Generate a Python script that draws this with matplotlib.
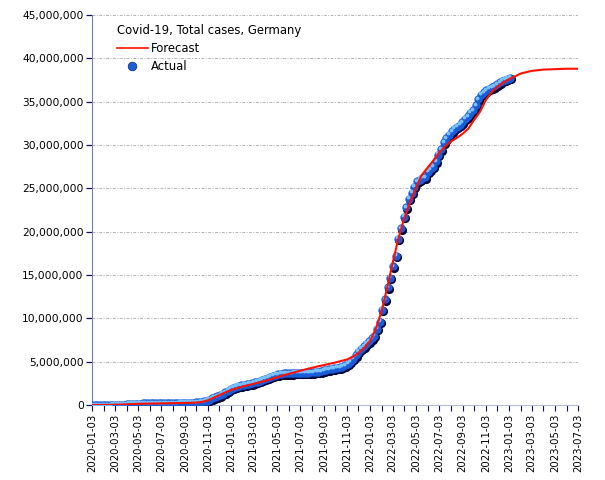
import matplotlib
matplotlib.use("Agg")
import matplotlib.pyplot as plt
import matplotlib.ticker as mticker
from matplotlib.transforms import offset_copy
from matplotlib.lines import Line2D
import pandas as pd
import numpy as np

plt.rcParams['font.family'] = ['DejaVu Sans']

legend_title = "Covid-19, Total cases, Germany"
series_names = ["Forecast", "Actual"]

# Actual total cases (millions), weekly from 2020-01-03
actual_start = "2020-01-03"
actual_2020 = [0, 0, 0, 0, 0, 0, 0, 0, 0.0001, 0.0007, 0.004, 0.02, 0.05,
               0.09, 0.12, 0.14, 0.155, 0.164, 0.171, 0.176, 0.18, 0.183,
               0.185, 0.188, 0.191, 0.194, 0.197, 0.2, 0.203, 0.207, 0.212,
               0.218, 0.226, 0.235, 0.244, 0.252, 0.261, 0.272, 0.286, 0.3,
               0.32, 0.355, 0.41, 0.51, 0.63, 0.76, 0.89, 1.02, 1.15, 1.3,
               1.47, 1.63]
actual_2021 = [1.85, 2.0, 2.1, 2.2, 2.28, 2.36, 2.42, 2.47, 2.53, 2.6, 2.68,
               2.78, 2.9, 3.02, 3.15, 3.28, 3.4, 3.5, 3.57, 3.62, 3.65, 3.67,
               3.68, 3.69, 3.7, 3.7, 3.71, 3.72, 3.73, 3.74, 3.76, 3.78,
               3.81, 3.86, 3.92, 3.99, 4.06, 4.12, 4.18, 4.23, 4.28, 4.35,
               4.44, 4.56, 4.75, 5.0, 5.35, 5.75, 6.15, 6.5, 6.8, 7.05, 7.35]
actual_2022 = [7.7, 8.0, 8.8, 9.6, 11.0, 12.2, 13.6, 14.7, 16.0, 17.2, 19.2,
               20.4, 21.7, 22.8, 23.8, 24.5, 25.2, 25.8, 26.0, 26.2, 26.3,
               26.9, 27.2, 27.5, 28.1, 28.9, 29.5, 30.3, 30.8, 31.2, 31.6,
               31.85, 32.1, 32.35, 32.6, 33.0, 33.3, 33.7, 34.0, 34.6, 35.3,
               35.8, 36.1, 36.3, 36.5, 36.65, 36.8, 37.0, 37.25, 37.4, 37.5,
               37.65]
actual_2023 = [37.75]

# Forecast total cases (millions)
forecast_dates = ["2020-01-03", "2020-03-03", "2020-04-03", "2020-05-03",
                  "2020-07-03", "2020-09-03", "2020-10-03", "2020-10-18",
                  "2020-11-03", "2020-11-18", "2020-12-03", "2020-12-18",
                  "2021-01-03", "2021-02-03", "2021-03-03", "2021-04-03",
                  "2021-05-03", "2021-06-03", "2021-07-03", "2021-08-03",
                  "2021-09-03", "2021-10-03", "2021-11-03", "2021-11-18",
                  "2021-12-03", "2021-12-18", "2022-01-03", "2022-01-18",
                  "2022-02-03", "2022-02-18", "2022-03-03", "2022-03-18",
                  "2022-04-03", "2022-04-18", "2022-05-03", "2022-05-18",
                  "2022-06-03", "2022-06-18", "2022-07-03", "2022-07-18",
                  "2022-08-03", "2022-08-18", "2022-09-03", "2022-09-18",
                  "2022-10-03", "2022-10-18", "2022-11-03", "2022-11-18",
                  "2022-12-03", "2022-12-18", "2023-01-03", "2023-02-03",
                  "2023-03-03", "2023-04-03", "2023-05-03", "2023-06-03",
                  "2023-07-03"]
forecast_values = [0.0, 0.03, 0.08, 0.14, 0.19, 0.24, 0.28, 0.36, 0.55, 0.85,
                   1.15, 1.45, 1.75, 2.15, 2.45, 2.8, 3.2, 3.6, 3.95, 4.3,
                   4.6, 4.9, 5.25, 5.55, 6.0, 6.6, 7.4, 8.8, 11.0, 13.8, 16.4,
                   19.2, 21.6, 23.4, 25.0, 26.5, 27.4, 28.2, 29.1, 29.8, 30.4,
                   30.8, 31.3, 31.9, 32.9, 33.8, 35.2, 36.1, 36.7, 37.2, 37.6,
                   38.25, 38.55, 38.7, 38.75, 38.8, 38.8]

x_start = "2020-01-03"
x_end = "2023-07-03"
y_max = 45_000_000
y_step = 5_000_000

actual = actual_2020 + actual_2021 + actual_2022 + actual_2023
a_dates = pd.date_range(actual_start, periods=len(actual), freq="7D")
a_vals = np.array(actual) * 1e6
f_dates = pd.to_datetime(forecast_dates)
f_vals = np.array(forecast_values) * 1e6

fig = plt.figure(figsize=(6.05, 4.8), dpi=100)
ax = fig.add_axes([92 / 605, 1 - 405 / 480, 486 / 605, 390 / 480])

# sphere-like markers: shadow, body, highlight
shadow = offset_copy(ax.transData, fig=fig, x=0.9, y=-1.5, units='dots')
hilite = offset_copy(ax.transData, fig=fig, x=-1.1, y=1.5, units='dots')
ax.plot(a_dates, a_vals, linestyle='none', marker='o', markersize=6.6,
        markerfacecolor='#040838', markeredgewidth=0, transform=shadow,
        zorder=3)
ax.plot(a_dates, a_vals, linestyle='none', marker='o', markersize=6.0,
        markerfacecolor='#1a5bd8', markeredgewidth=0, zorder=4)
ax.plot(a_dates, a_vals, linestyle='none', marker='o', markersize=2.8,
        markerfacecolor='#78c0ff', markeredgewidth=0, transform=hilite,
        zorder=5)
ax.plot(f_dates, f_vals, color='#ff1000', linewidth=1.5, zorder=6)

ax.set_xlim(pd.Timestamp(x_start), pd.Timestamp(x_end))
ax.set_ylim(0, y_max)
ax.yaxis.set_major_locator(mticker.MultipleLocator(y_step))
ax.yaxis.set_major_formatter(mticker.FuncFormatter(lambda v, p: f"{v:,.0f}"))

month_ticks = pd.date_range(x_start, x_end, freq=pd.DateOffset(months=1))
ax.set_xticks(month_ticks[::2])
ax.set_xticks(month_ticks, minor=True)
ax.set_xticklabels([d.strftime("%Y-%m-%d") for d in month_ticks[::2]],
                   rotation=90, fontsize=7.3)
for lab in ax.get_yticklabels():
    lab.set_fontsize(7.7)

ax.grid(axis='y', color='#b4b4b4', linestyle=(0, (3, 1.5, 1, 1.5)),
        linewidth=0.7)
ax.set_axisbelow(True)
for s in ['top', 'right']:
    ax.spines[s].set_visible(False)
ax.spines['left'].set_color('#7080bc')
ax.spines['bottom'].set_color('#b4bcd8')
ax.tick_params(axis='y', direction='out', length=4, color='#101060',
               width=0.9, pad=2)
ax.tick_params(axis='x', which='both', direction='out', length=4,
               color='#101060', width=0.8, pad=2)

h_fc = Line2D([], [], color='#ff1000', linewidth=1.2)
h_ac = Line2D([], [], linestyle='none', marker='o', markersize=6.2,
              markerfacecolor='#1d5ed6', markeredgecolor='#0a2080',
              markeredgewidth=0.5)
leg = ax.legend([h_fc, h_ac], series_names, title=legend_title,
                loc='upper left', bbox_to_anchor=(0.035, 0.998),
                frameon=False, fontsize=8.4, title_fontsize=8.4,
                handlelength=2.6, handletextpad=0.3, labelspacing=0.42,
                alignment='left', borderpad=0.2)

fig.savefig("out.png", dpi=100)
